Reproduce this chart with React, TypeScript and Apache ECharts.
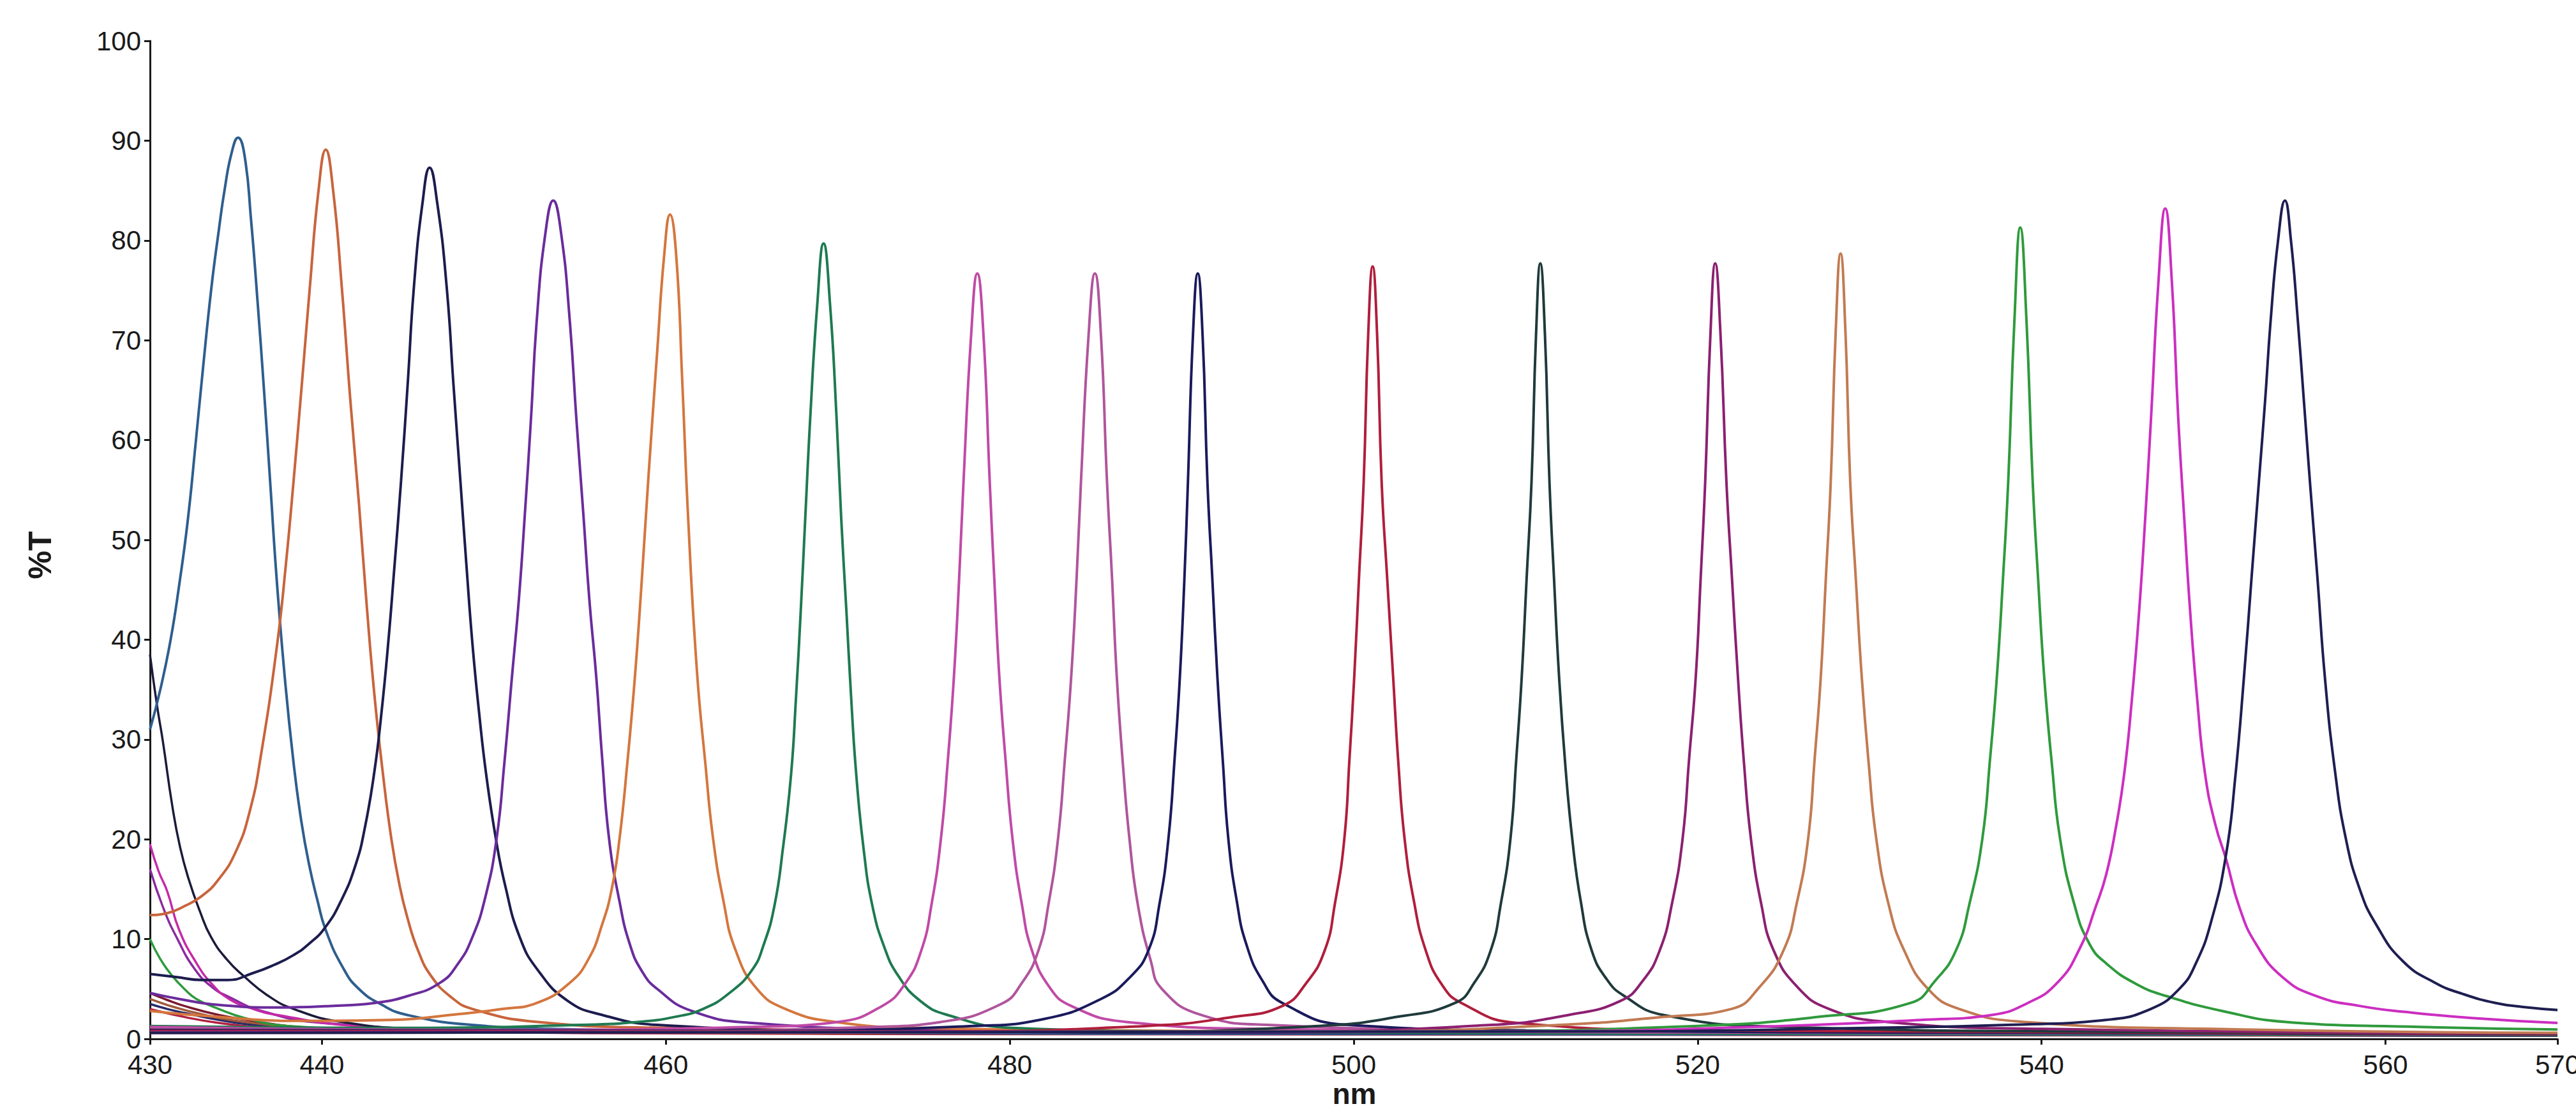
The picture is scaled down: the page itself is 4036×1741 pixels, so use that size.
import React, { useEffect, useRef } from "react";
import * as echarts from "echarts";

// x-axis tick labels (nm) and y-axis range (%T)
const xTickValues = [430, 440, 460, 480, 500, 520, 540, 560, 570];
const xRange = [430, 570];
const yRange = [0, 100];
const yStep = 10;

// tails of filters peaking below 430 nm
const tail1 = [[430, 38.5], [430.4, 33.5], [430.75, 29.8], [431.3, 23.3], [431.75, 19.2], [432.25, 16], [432.9, 12.8], [433.55, 10.2], [434.5, 7.9], [435.45, 6.3], [436.8, 4.4], [438.35, 3], [441.15, 1.7], [446, 1.0], [460, 0.7], [500, 0.5], [570, 0.4]];
const tail2 = [[430, 19.5], [430.5, 16.8], [431, 14.8], [431.7, 10.9], [432.7, 7.6], [433.6, 5.5], [434.6, 4], [436, 3], [437.4, 2.4], [442, 1.3], [450, 0.9], [480, 0.6], [570, 0.4]];
const tail3 = [[430, 17], [430.8, 13], [431.6, 10], [432.6, 7], [433.6, 5.2], [434.6, 4.2], [436.5, 2.8], [440, 1.6], [450, 0.95], [570, 0.4]];
const tail4 = [[430, 10], [430.6, 8], [431.3, 6.3], [432, 5], [432.7, 4], [434, 3], [435.5, 2.1], [438, 1.3], [445, 0.9], [470, 0.7], [570, 0.5]];
const tail5 = [[430, 4.6], [431, 3.9], [432, 3.3], [434, 2.4], [436, 1.8], [438, 1.3], [441, 1.0], [450, 0.75], [570, 0.4]];
const tail6 = [[430, 4.0], [431, 3.4], [432, 2.9], [434, 2.1], [436, 1.6], [438.5, 1.15], [442, 0.9], [460, 0.6], [570, 0.35]];
const tail7 = [[430, 3.5], [431, 3.0], [432, 2.6], [434, 1.9], [436, 1.4], [439, 1.0], [445, 0.75], [570, 0.3]];
const tail8 = [[430, 3.0], [432, 2.2], [434, 1.6], [437, 1.1], [441, 0.8], [470, 0.5], [570, 0.3]];
const tail9 = [[430, 1.0], [440, 0.85], [470, 0.7], [520, 0.6], [570, 0.5]];

// filter transmission curves, [nm, %T]
const s435 = [[430, 31], [430.6, 35], [431.2, 40], [431.7, 45.5], [432.2, 52], [432.65, 59.6], [433.1, 67.5], [433.58, 75.4], [434.0, 81], [434.35, 85.2], [434.75, 88.8], [435.12, 90.3], [435.5, 88.5], [435.88, 82], [436.25, 74], [436.63, 65], [437.0, 55.5], [437.37, 46], [437.85, 36], [438.34, 27.8], [438.8, 21.8], [439.26, 17.4], [439.75, 13.8], [440.22, 10.9], [441.2, 7.2], [442.15, 5], [443.5, 3.4], [444.95, 2.4], [448.7, 1.4], [455, 0.95], [470, 0.65], [500, 0.5], [535, 0.45], [570, 0.4]];
const s440 = [[430, 12.4], [431, 12.6], [432, 13.3], [433, 14.3], [434, 16], [435, 18.8], [435.8, 22.8], [436.45, 28.4], [437.4, 39.6], [437.9, 47.5], [438.35, 55.9], [438.85, 66], [439.3, 75.4], [439.8, 85], [440.22, 89.1], [440.65, 85], [441.15, 75.4], [441.65, 64], [442.14, 53.9], [442.6, 43.5], [443.06, 34.3], [443.55, 26.5], [444.04, 20], [444.5, 15.5], [444.96, 12.2], [445.6, 8.8], [446.35, 6.3], [447.5, 4.2], [448.75, 3], [452.55, 1.7], [460, 1.1], [480, 0.8], [520, 0.6], [570, 0.5]];
const s446 = [[430, 6.5], [431.5, 6.2], [433, 5.9], [434.5, 5.9], [436, 6.6], [437.2, 7.4], [438.35, 8.4], [439.3, 9.6], [440.2, 11.2], [441.1, 13.8], [441.95, 17.4], [442.5, 21.2], [443.05, 26.8], [443.45, 32.5], [443.85, 39.6], [444.2, 47], [444.6, 55.9], [445.0, 66], [445.35, 75.4], [445.85, 83.8], [446.26, 87.3], [446.7, 83.8], [447.25, 75.4], [447.65, 65.5], [448.05, 55.9], [448.4, 47.5], [448.75, 39.6], [449.15, 32.5], [449.55, 26.5], [450.1, 20.2], [450.65, 15.4], [451.5, 10.2], [452.55, 6.9], [454.3, 3.8], [456.3, 2.4], [459.5, 1.4], [470, 0.85], [500, 0.6], [570, 0.5]];
const s453 = [[430, 4.6], [431.7, 4.0], [434, 3.4], [437.4, 3.15], [440.5, 3.3], [443.05, 3.6], [445, 4.3], [446.85, 5.6], [447.9, 7.5], [448.75, 10.2], [449.5, 14.2], [450.15, 20], [450.6, 27.5], [451.05, 36.3], [451.45, 44], [451.8, 52.6], [452.15, 62], [452.5, 72.2], [453.0, 80.8], [453.45, 84], [453.9, 80.8], [454.4, 72.2], [454.8, 62], [455.2, 52.6], [455.55, 44], [455.95, 36.3], [456.3, 28], [456.7, 20], [457.3, 13.8], [457.9, 9.5], [458.6, 6.8], [459.5, 5], [461.5, 2.8], [465, 1.6], [475, 0.95], [500, 0.65], [570, 0.5]];
const s460 = [[430, 2.8], [434, 2.2], [438.4, 1.8], [444, 1.9], [448, 2.5], [450.5, 3.0], [452.5, 3.6], [454.4, 5.6], [455.5, 8], [456.3, 11.5], [456.85, 15], [457.3, 20], [457.75, 27.5], [458.2, 36.3], [458.6, 46], [458.97, 55.9], [459.5, 69], [459.9, 78.5], [460.24, 82.6], [460.6, 78.5], [460.95, 66], [461.3, 52], [461.8, 37], [462.3, 27.5], [462.75, 20], [463.35, 13.8], [464.05, 8.9], [465.3, 5], [466.95, 3.0], [469.85, 1.7], [475, 1.1], [490, 0.8], [520, 0.6], [570, 0.5]];
const s469 = [[430, 1.3], [445, 1.1], [455, 1.4], [458.38, 1.7], [460.5, 2.2], [462.16, 3], [463.7, 4.6], [465.01, 6.9], [465.7, 9.5], [466.32, 13.4], [466.8, 19], [467.28, 26.5], [467.56, 34], [467.84, 42.8], [468.1, 52], [468.4, 62.4], [468.8, 73.5], [469.17, 79.7], [469.55, 73.5], [469.92, 62.4], [470.2, 52], [470.5, 42.8], [470.78, 34], [471.07, 26.5], [471.5, 19], [472.0, 13.4], [472.7, 9.2], [473.52, 6.3], [474.8, 3.8], [476.37, 2.4], [480.16, 1.1], [490, 0.75], [520, 0.55], [570, 0.4]];
const s478 = [[430, 1.2], [450, 0.9], [465, 1.2], [470, 1.7], [472.58, 3.3], [473.9, 5.5], [474.86, 8.9], [475.45, 13.5], [475.99, 20], [476.4, 28], [476.75, 36.3], [477.05, 46], [477.31, 55.9], [477.75, 70.5], [478.11, 76.7], [478.47, 70.5], [478.83, 55.9], [479.1, 46], [479.39, 36.3], [479.75, 28], [480.16, 20], [480.7, 13.5], [481.28, 8.9], [482.3, 5.2], [483.57, 3.3], [486.77, 1.7], [495, 1.0], [520, 0.65], [570, 0.45]];
const s485 = [[430, 1.0], [460, 0.8], [472, 1.2], [476, 1.7], [479.5, 3.5], [480.7, 5.6], [481.67, 8.9], [482.25, 13.5], [482.8, 20], [483.2, 28], [483.57, 36.3], [483.88, 46], [484.14, 55.9], [484.58, 70.5], [484.95, 76.7], [485.3, 70.5], [485.65, 55.9], [485.95, 46], [486.22, 36.3], [486.6, 27], [486.96, 20], [487.45, 13.4], [488.2, 7.8], [488.85, 5], [491.12, 2.4], [495, 1.4], [510, 0.85], [540, 0.6], [570, 0.45]];
const s491 = [[430, 0.9], [465, 0.8], [478, 1.3], [482, 2], [485.3, 4], [487.0, 6.2], [488.07, 8.9], [488.7, 13.5], [489.22, 20], [489.58, 28], [489.89, 36.3], [490.15, 46], [490.36, 55.9], [490.65, 70.5], [490.93, 76.7], [491.21, 70.5], [491.49, 55.9], [491.78, 46], [492.07, 36.3], [492.4, 27.5], [492.71, 20], [493.2, 13.8], [493.75, 9.5], [494.7, 5.8], [495.85, 3.6], [499.64, 1.4], [510, 0.85], [540, 0.6], [570, 0.45]];
const s501 = [[430, 0.8], [475, 0.75], [488, 1.3], [493, 2.2], [495.85, 3.3], [497.2, 5.5], [498.32, 8.9], [498.9, 13.5], [499.45, 20], [499.75, 28], [500.03, 36.3], [500.3, 46], [500.58, 55.9], [500.84, 70.5], [501.1, 77.4], [501.36, 70.5], [501.62, 55.9], [501.95, 46], [502.29, 36.3], [502.6, 27.5], [502.96, 20], [503.5, 13.8], [504.18, 8.9], [505.1, 5.5], [506.26, 3.6], [509.5, 1.6], [520, 0.85], [570, 0.45]];
const s511 = [[430, 0.7], [485, 0.7], [498, 1.3], [502.5, 2.2], [505.89, 3.6], [507.0, 5.6], [507.97, 8.9], [508.55, 13.5], [509.11, 20], [509.45, 28], [509.77, 36.3], [510.05, 46], [510.34, 55.9], [510.6, 70.5], [510.85, 77.7], [511.12, 70.5], [511.38, 55.9], [511.65, 46], [511.94, 36.3], [512.3, 27.5], [512.71, 20], [513.2, 13.8], [513.83, 8.9], [514.7, 6], [515.73, 4.3], [518, 2.4], [525, 1.2], [545, 0.7], [570, 0.5]];
const s521 = [[430, 0.7], [495, 0.75], [508, 1.4], [512.5, 2.4], [515.5, 3.8], [516.8, 5.8], [517.8, 8.9], [518.5, 13.5], [519.12, 20], [519.5, 28], [519.89, 36.3], [520.17, 46], [520.44, 55.9], [520.74, 70.5], [521.02, 77.7], [521.33, 70.5], [521.67, 55.9], [522.0, 46], [522.34, 36.3], [522.7, 27.5], [523.1, 20], [523.7, 13.5], [524.41, 8.9], [525.8, 5.2], [527.64, 3.0], [531, 1.7], [540, 1.0], [570, 0.55]];
const s528 = [[430, 0.6], [500, 0.75], [512, 1.4], [518, 2.2], [521.96, 3.0], [523.6, 5.2], [525.0, 8.9], [525.75, 13.5], [526.42, 20], [526.8, 28], [527.16, 36.3], [527.45, 46], [527.74, 55.9], [528.03, 71], [528.31, 78.7], [528.59, 71], [528.87, 55.9], [529.2, 46], [529.54, 36.3], [529.95, 27.5], [530.39, 20], [531.1, 13.5], [532.0, 8.9], [533.4, 5], [535.21, 3], [539, 1.7], [550, 1.0], [570, 0.6]];
const s539 = [[430, 0.6], [505, 0.75], [520, 1.3], [527, 2.2], [532.38, 3.6], [533.8, 5.8], [535.03, 8.9], [535.8, 13.5], [536.55, 20], [537.0, 28], [537.4, 36.3], [537.75, 46], [538.06, 55.9], [538.42, 72], [538.76, 81.3], [539.12, 72], [539.48, 55.9], [539.8, 46], [540.15, 36.3], [540.6, 27.5], [541.08, 20], [541.9, 13.5], [542.79, 9.5], [543.8, 7.5], [545.5, 5.5], [547.24, 4.3], [550.5, 2.8], [554.21, 1.7], [562, 1.2], [570, 0.95]];
const s547 = [[430, 0.6], [510, 0.75], [525, 1.3], [533, 1.9], [537.11, 2.4], [539.2, 3.6], [540.9, 5.6], [542.2, 9], [543.18, 13.4], [543.76, 16.5], [544.3, 21], [544.8, 26.5], [545.25, 34], [545.67, 42.8], [546.02, 52], [546.37, 62.4], [546.8, 76], [547.19, 83.2], [547.57, 76], [547.94, 62.4], [548.3, 52], [548.64, 42.8], [549.05, 34], [549.51, 26.5], [550.1, 21.5], [550.73, 18], [551.5, 13.2], [552.47, 9.5], [554, 6.2], [555.95, 4.3], [558.5, 3.3], [561.18, 2.7], [565, 2.1], [570, 1.6]];
const s554 = [[430, 0.6], [515, 0.75], [530, 1.1], [538, 1.4], [543.75, 1.9], [546.35, 3], [548.0, 5], [548.98, 7.6], [549.9, 12], [550.73, 18.5], [551.25, 26], [551.77, 36.3], [552.2, 46], [552.64, 55.9], [553.0, 64], [553.33, 72.2], [553.75, 80], [554.15, 84], [554.5, 80], [554.89, 72.2], [555.25, 64], [555.6, 55.9], [556.05, 46], [556.47, 36.3], [557.05, 27], [557.7, 20], [558.5, 15], [559.44, 11.5], [561, 7.8], [562.91, 5.6], [564.5, 4.5], [566.4, 3.6], [568, 3.2], [570, 2.9]];

const curves = [tail9, tail8, tail7, tail6, tail5, tail4, tail3, tail2, tail1, s435, s440, s446, s453, s460, s469, s478, s485, s491, s501, s511, s521, s528, s539, s547, s554];
const curveNames = ["t9", "t8", "t7", "t6", "t5", "t4", "t3", "t2", "t1", "435", "440", "446", "453", "460", "469", "478", "485", "491", "501", "511", "521", "528", "539", "547", "554"];
const curveColors = ["#c060a0", "#b02040", "#2a2a6a", "#a05a3a", "#7a1a30", "#2e9a3c", "#8a2a9e", "#c42aa8", "#1b1b3b", "#2e5e8e", "#c8643c", "#1c1c4e", "#6a2c9c", "#d4763e", "#1e7a50", "#c04aa6", "#b0559c", "#1a1a5c", "#b01e3c", "#1f3a3c", "#8c2070", "#c27a52", "#2f9a3c", "#cc2ec0", "#1e1e52"];

const FONT = '"Liberation Sans", Arial, sans-serif';

export default function App() {
  const ref = useRef<HTMLDivElement>(null);
  useEffect(() => {
    if (!ref.current) return;
    const chart = echarts.init(ref.current, null, { renderer: "svg" });
    chart.setOption({
      animation: false,
      backgroundColor: "#ffffff",
      grid: { left: 235, right: 29, top: 64, bottom: 113, containLabel: false, outerBoundsMode: "none" },
      xAxis: {
        type: "value",
        min: xRange[0],
        max: xRange[1],
        splitLine: { show: false },
        axisLine: { show: true, onZero: false, lineStyle: { color: "#1a1a1a", width: 3 } },
        axisTick: { show: true, length: 9, lineStyle: { color: "#1a1a1a", width: 3 }, customValues: xTickValues },
        axisLabel: { customValues: xTickValues, color: "#1a1a1a", fontSize: 42, fontFamily: FONT, margin: 19, showMinLabel: true, showMaxLabel: true, hideOverlap: false },
      },
      yAxis: {
        type: "value",
        min: yRange[0],
        max: yRange[1],
        interval: yStep,
        splitLine: { show: false },
        axisLine: { show: true, lineStyle: { color: "#1a1a1a", width: 3 } },
        axisTick: { show: true, length: 9, lineStyle: { color: "#1a1a1a", width: 3 } },
        axisLabel: { color: "#1a1a1a", fontSize: 42, fontFamily: FONT, margin: 14 },
      },
      graphic: [
        {
          type: "text",
          x: 63,
          y: 870,
          rotation: Math.PI / 2,
          style: { text: "%T", fontSize: 50, fontWeight: "bold", fontFamily: FONT, fill: "#1a1a1a", align: "center", verticalAlign: "middle" },
        },
        {
          type: "text",
          x: 2122,
          y: 1714,
          style: { text: "nm", fontSize: 46, fontWeight: "bold", fontFamily: FONT, fill: "#1a1a1a", align: "center", verticalAlign: "middle" },
        },
      ],
      series: curves.map((d, i) => ({
        type: "line",
        name: curveNames[i],
        data: d,
        showSymbol: false,
        smooth: 0.5,
        clip: true,
        lineStyle: { color: curveColors[i], width: i < 9 ? 3.5 : 4 },
        itemStyle: { color: curveColors[i] },
        z: 2,
      })),
    });
    return () => chart.dispose();
  }, []);
  return <div ref={ref} style={{ position: "absolute", left: 0, top: 0, width: 4036, height: 1741 }} />;
}
